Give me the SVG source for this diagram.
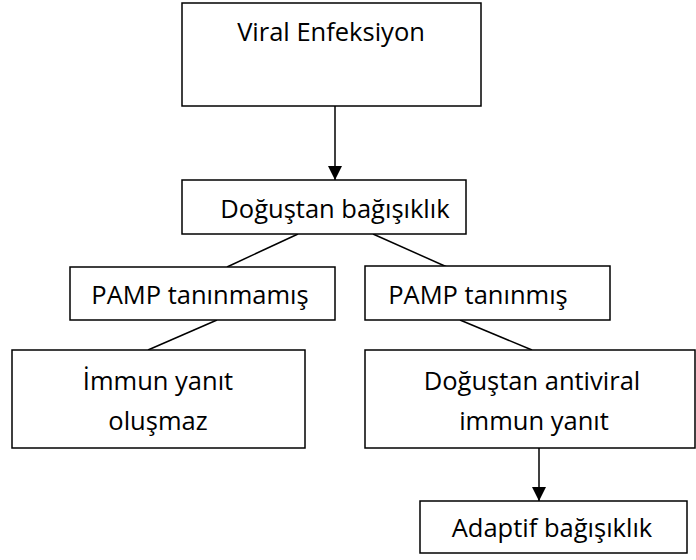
<svg xmlns="http://www.w3.org/2000/svg" width="696" height="560" viewBox="0 0 696 560">
<style>
rect{fill:#fff;stroke:#000;stroke-width:1.5}
text{font-family:"Open Sans","Liberation Sans",sans-serif;font-size:25.5px;fill:#000;text-anchor:middle}
.c line{stroke:#000;stroke-width:1.5}
</style>
<defs>
<marker id="ah" viewBox="0 0 10 10" refX="10" refY="5" markerWidth="15" markerHeight="14" markerUnits="userSpaceOnUse" orient="auto"><path d="M0,0L10,5L0,10z" fill="#000"/></marker>
</defs>
<rect width="696" height="560" style="fill:#fff;stroke:none"/>
<g class="c">
<line x1="335" y1="106" x2="335" y2="180" marker-end="url(#ah)"/>
<line x1="298" y1="234" x2="227" y2="267"/>
<line x1="373" y1="234" x2="447" y2="267"/>
<line x1="217" y1="320" x2="148" y2="350"/>
<line x1="460" y1="320" x2="532" y2="350"/>
<line x1="539" y1="448" x2="539" y2="501" marker-end="url(#ah)"/>
</g>
<g id="n1"><rect x="182" y="3" width="299" height="103"/><text x="331" y="41">Viral Enfeksiyon</text></g>
<g id="n2"><rect x="182" y="180" width="284" height="54"/><text x="335" y="218">Doğuştan bağışıklık</text></g>
<g id="n3"><rect x="70" y="267" width="265" height="53"/><text x="200" y="304">PAMP tanınmamış</text></g>
<g id="n4"><rect x="365" y="266" width="245" height="54"/><text x="478" y="304">PAMP tanınmış</text></g>
<g id="n5"><rect x="12" y="350" width="293" height="98"/><text x="158" y="390">İmmun yanıt</text><text x="158" y="430">oluşmaz</text></g>
<g id="n6"><rect x="365" y="350" width="330" height="98"/><text x="532" y="390">Doğuştan antiviral</text><text x="534" y="430">immun yanıt</text></g>
<g id="n7"><rect x="420" y="501" width="267" height="52"/><text x="552" y="537">Adaptif bağışıklık</text></g>
</svg>
